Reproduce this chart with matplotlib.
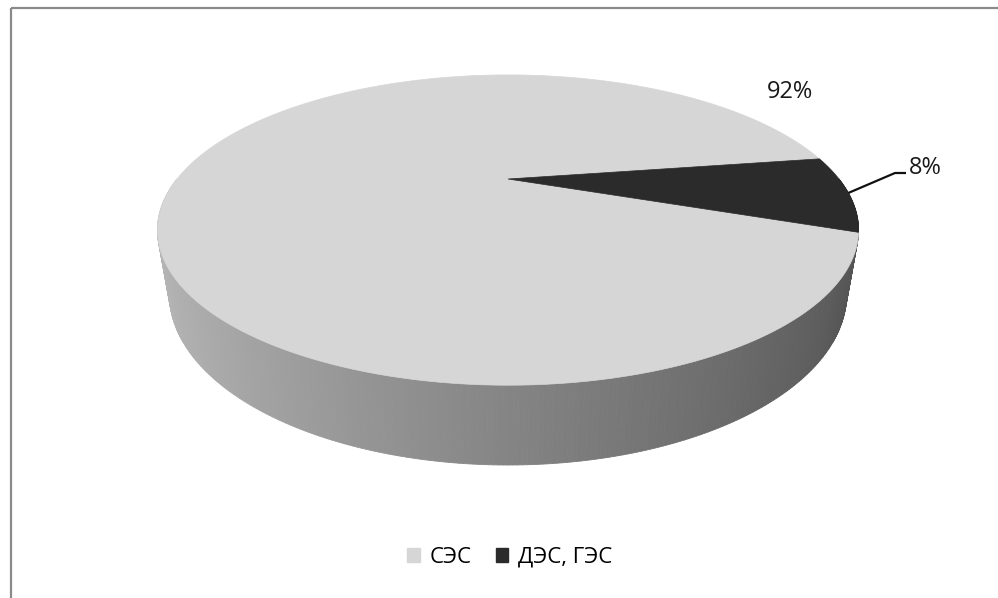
import numpy as np
import matplotlib.pyplot as plt
from matplotlib.patches import Polygon, Patch, Rectangle

# Структура генерации
labels = ['СЭС', 'ДЭС, ГЭС']
values = [92, 8]
pct_labels = ['92%', '8%']
top_colors = ['#d6d6d6', '#2b2b2b']

# параметры объёмной круговой диаграммы (в пикселях холста)
first_slice_angle = 110.0      # по часовой стрелке от 12 часов
elev = np.radians(24.7)
cam_dist = 2.76
focal = 913.6
thick = 0.208
cx, cy = 508, 179

W, H = 998, 598
fig = plt.figure(figsize=(W / 100, H / 100), dpi=100)
ax = fig.add_axes([0, 0, 1, 1])
ax.set_xlim(0, W)
ax.set_ylim(H, 0)
ax.axis('off')


def project(t, z):
    x, y = np.cos(t), np.sin(t)
    d = cam_dist + y * np.cos(elev) - z * np.sin(elev)
    up = y * np.sin(elev) + z * np.cos(elev)
    return cx + focal * x / d, cy - focal * up / d


# границы секторов (математический угол, идём по часовой)
fracs = np.array(values, dtype=float) / sum(values)
start = np.radians(90 - first_slice_angle)
bounds = []
a = start
for f in fracs:
    bounds.append((a, a - f * 2 * np.pi))
    a -= f * 2 * np.pi


def slice_of(t):
    for i, (a0, a1) in enumerate(bounds):
        tt = t
        while tt > a0:
            tt -= 2 * np.pi
        while tt <= a0 - 2 * np.pi:
            tt += 2 * np.pi
        if tt >= a1:
            return i
    return 0


# боковая стенка: сначала дальние сегменты, потом ближние
ts = np.linspace(-np.pi, 0, 301)
segs = sorted(zip(ts[:-1], ts[1:]), key=lambda s: -np.sin(0.5 * (s[0] + s[1])))
for t0, t1 in segs:
    tm = 0.5 * (t0 + t1)
    i = slice_of(tm)
    u = (np.cos(tm) + 1) / 2
    if i == 0:
        g = 0.73 - 0.42 * u
    else:
        g = 0.15
    col = (g, g, g)
    x0, y0 = project(t0, 0)
    x1, y1 = project(t1, 0)
    x2, y2 = project(t1, -thick)
    x3, y3 = project(t0, -thick)
    ax.add_patch(Polygon([(x0, y0), (x1, y1), (x2, y2), (x3, y3)],
                         closed=True, facecolor=col, edgecolor=col, lw=0.6))

# верхняя грань
for (a0, a1), col in zip(bounds, top_colors):
    tt = np.linspace(a0, a1, 400)
    px, py = project(tt, 0)
    pts = [(cx, cy)] + list(zip(px, py))
    ax.add_patch(Polygon(pts, closed=True, facecolor=col, edgecolor=col, lw=0.5))

# подписи
ax.text(790, 92, pct_labels[0], fontsize=17, ha='center', va='center',
        family=['Open Sans', 'DejaVu Sans'], color='#1a1a1a')

mid = 0.5 * (bounds[1][0] + bounds[1][1])
lx, ly = project(mid, 0)
ax.plot([lx, 895, 906], [ly, 173, 173], color='#111111', lw=1.6,
        solid_capstyle='butt')
ax.text(909, 168, pct_labels[1], fontsize=17, ha='left', va='center',
        family=['Open Sans', 'DejaVu Sans'], color='#1a1a1a')

# рамка области диаграммы
ax.add_patch(Rectangle((11, 8), W, H, fill=False, edgecolor='#8a8a8a', lw=1.6))

# легенда
handles = [Patch(facecolor=c, edgecolor=c) for c in top_colors]
leg = fig.legend(handles, labels, loc='center', bbox_to_anchor=(0.511, 0.068),
                 ncol=2, frameon=False, handlelength=0.55, handleheight=0.55,
                 handletextpad=0.45, columnspacing=1.1,
                 prop={'family': ['Open Sans', 'DejaVu Sans'], 'size': 16})

fig.savefig('out.png', dpi=100, facecolor='white')
